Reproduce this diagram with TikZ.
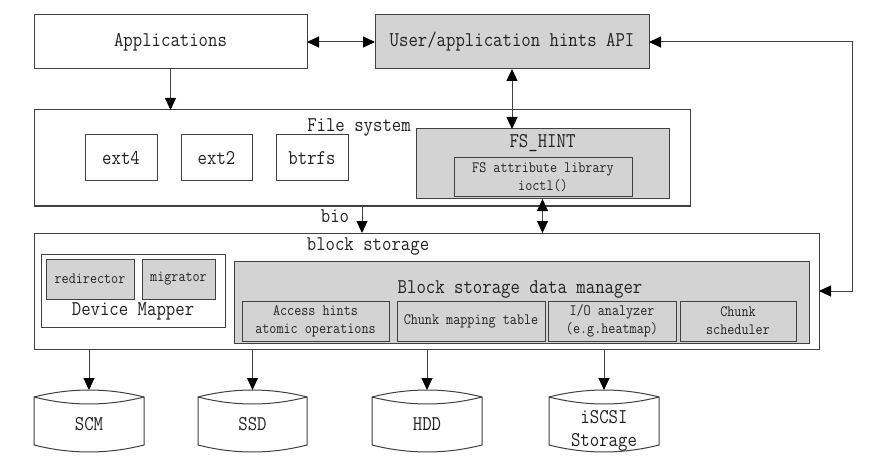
\documentclass[tikz,border=0pt]{standalone}
\usepackage{fontspec}
\setmainfont{Latin Modern Mono}[FakeStretch=0.87]
\usetikzlibrary{arrows.meta}
\definecolor{linec}{HTML}{404040}
\definecolor{boxgray}{HTML}{D3D3D3}
\definecolor{txt}{HTML}{222222}
\newcommand{\normtxt}{\fontsize{21}{23}\selectfont}
\newcommand{\smalltxt}{\fontsize{15.8}{18}\selectfont}
\begin{document}
\begin{tikzpicture}[x=1pt,y=-1pt,
 box/.style={draw=linec, line width=1pt, fill=white, inner sep=0pt, outer sep=0pt, text=txt, font=\normtxt, align=center},
 gbox/.style={box, fill=boxgray},
 sbox/.style={gbox, font=\smalltxt},
 lbl/.style={inner sep=0pt, outer sep=0pt, text=txt, font=\normtxt, align=center},
 arr/.style={draw=linec, line width=1pt, -{Triangle[length=12pt,width=11pt,color=black]}},
 darr/.style={draw=linec, line width=1pt, {Triangle[length=12pt,width=11pt,color=black]}-{Triangle[length=12pt,width=11pt,color=black]}},
 cyl/.style={draw=linec, line width=1pt, fill=white}
]
\useasboundingbox[fill=white] (0,0) rectangle (876,476);

% top row
\node[box, minimum width=273pt, minimum height=54pt] (app) at (170.5,42) {Applications};
\node[gbox, minimum width=274pt, minimum height=54pt] (api) at (512,42) {User/application hints API};

% file system
\node[box, minimum width=656pt, minimum height=96pt] (fs) at (362,158) {};
\node[lbl] (fslbl) at (359,127) {File system};
\node[box, minimum width=72pt, minimum height=46pt] (ext4) at (121,158) {ext4};
\node[box, minimum width=71pt, minimum height=46pt] (ext2) at (216.5,158) {ext2};
\node[box, minimum width=72pt, minimum height=46pt] (btrfs) at (312,158) {btrfs};
\node[gbox, minimum width=253pt, minimum height=70pt] (fshint) at (542.5,164) {};
\node[lbl] (fshintlbl) at (542.5,143) {FS\_HINT};
\node[sbox, minimum width=178pt, minimum height=39pt] (fsattr) at (543,177.5) {FS attribute library\\ioctl()};

% block storage
\node[box, minimum width=785pt, minimum height=116pt] (bs) at (426.5,291) {};
\node[lbl] (bslbl) at (368,246) {block storage};
\node[box, minimum width=184pt, minimum height=73pt] (dm) at (133,290.5) {};
\node[sbox, minimum width=88pt, minimum height=40pt] (redir) at (90,279) {redirector};
\node[sbox, minimum width=73pt, minimum height=40pt] (migr) at (178.5,279) {migrator};
\node[lbl] (dmlbl) at (133,311) {Device Mapper};
\node[gbox, minimum width=575pt, minimum height=82pt] (bsdm) at (521.5,302) {};
\node[lbl] (bsdmlbl) at (520,289) {Block storage data manager};
\node[sbox, minimum width=147pt, minimum height=40pt] (access) at (315.5,321) {Access hints\\atomic operations};
\node[sbox, minimum width=148pt, minimum height=40pt] (chunkmap) at (471,321) {Chunk mapping table};
\node[sbox, minimum width=128pt, minimum height=40pt] (io) at (612,321) {I/O analyzer\\(e.g.heatmap)};
\node[sbox, minimum width=116pt, minimum height=40pt] (sched) at (738,321) {Chunk\\scheduler};

% storage drums
\foreach \L/\R/\nm/\ty/\tx in {34/144/scm/424/SCM, 198/307/ssd/424/SSD, 372/482/hdd/424/HDD, 549/659/iscsi/431/{iSCSI\\Storage}} {
 \pgfmathsetmacro{\wa}{\L+(\R-\L)/3}
 \pgfmathsetmacro{\wb}{\R-(\R-\L)/3}
 \pgfmathsetmacro{\cx}{(\L+\R)/2}
 \draw[cyl] (\L,397) .. controls (\wa,387.7) and (\wb,387.7) .. (\R,397) -- (\R,445) .. controls (\wb,454.3) and (\wa,454.3) .. (\L,445) -- cycle;
 \draw[cyl, fill=none] (\L,397) .. controls (\wa,406.3) and (\wb,406.3) .. (\R,397);
 \node[inner sep=0pt, outer sep=0pt, minimum width=110pt, minimum height=62pt] (\nm) at (\cx,421) {};
 \node[lbl] (\nm-t) at (\cx,\ty) {\tx};
}

% connectors
\draw[darr] (app.east) -- (api.west);
\draw[arr] (app.south) -- (app.south |- fs.north);
\draw[darr] (api.south) -- (api.south |- fshint.north);
\draw[darr] (fshint.south) -- (fshint.south |- bs.north);
\draw[arr] (fs.south) -- (fs.south |- bs.north);
\node[lbl] (biolbl) at (335,216) {bio};
\coordinate (rc1) at (852,42);
\coordinate (rc2) at (852,291);
\draw[darr] (api.east) -- (rc1) -- (rc2) -- (bs.east);
\foreach \nm in {scm,ssd,hdd,iscsi} {
 \draw[arr] (bs.south -| \nm.north) -- (\nm.north);
}
\end{tikzpicture}
\end{document}
